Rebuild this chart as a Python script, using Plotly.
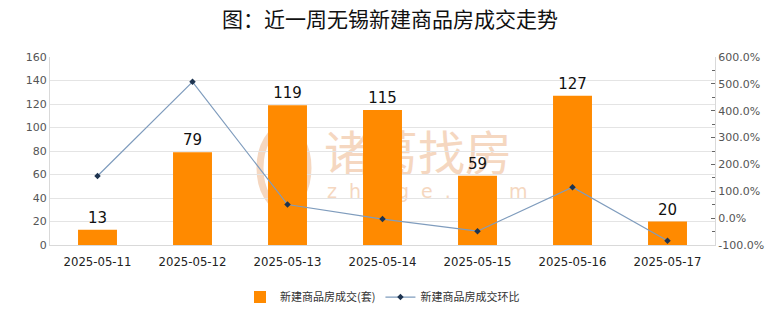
import base64
import plotly.graph_objects as go

# ---- data ----
dates = ["2025-05-11", "2025-05-12", "2025-05-13", "2025-05-14",
         "2025-05-15", "2025-05-16", "2025-05-17"]
deals = [13, 79, 119, 115, 59, 127, 20]
ratio = [157.0, 507.6, 50.6, -3.4, -48.7, 115.3, -84.3]
left_ticks = [0, 20, 40, 60, 80, 100, 120, 140, 160]
right_ticks = [-100, 0, 100, 200, 300, 400, 500, 600]
right_labels = [f"{v:.1f}%" for v in right_ticks]

title_text = "图：近一周无锡新建商品房成交走势"
bar_name = "新建商品房成交(套)"
line_name = "新建商品房成交环比"

# ---- watermark (decorative) ----
svg = """<svg xmlns='http://www.w3.org/2000/svg' width='780' height='328' viewBox='0 0 780 328'>
<g fill='none' stroke='#F5D7C0' stroke-width='7'>
<ellipse cx='284' cy='168' rx='24' ry='40'/>
</g>
<path d='M284 132 C270 150 270 186 284 204 C298 186 298 150 284 132 Z' fill='#F5D7C0'/>
<text x='324' y='170' font-family='Noto Sans CJK SC' font-size='47' fill='#F5D7C0'>诸葛找房</text>
<text x='327' y='198' font-family='DejaVu Sans' font-size='19' letter-spacing='12' fill='#F5D7C0'>zhuge.com</text>
</svg>"""
svg_uri = "data:image/svg+xml;base64," + base64.b64encode(svg.encode("utf-8")).decode()

fig = go.Figure()
fig.add_trace(go.Bar(
    x=dates, y=deals, name=bar_name,
    marker=dict(color="#FF8A00", line=dict(width=0)),
    width=0.41,
    text=deals, textposition="outside", cliponaxis=False,
    textfont=dict(size=15, color="#111111", family="DejaVu Sans"),
))
fig.add_trace(go.Scatter(
    x=dates, y=ratio, yaxis="y2", name=line_name,
    mode="lines+markers",
    line=dict(color="#7F9CBD", width=1.2),
    marker=dict(symbol="diamond", size=5, color="#1E3450"),
))

fig.update_layout(
    width=780, height=328,
    paper_bgcolor="white", plot_bgcolor="rgba(0,0,0,0)",
    margin=dict(l=50, r=65, t=57, b=83),
    title=dict(text=title_text, x=0.5, xanchor="center", y=1 - 20 / 328,
               yref="container", yanchor="middle",
               font=dict(size=21, color="#111111", family="Noto Sans CJK SC")),
    showlegend=True,
    legend=dict(orientation="h", x=0.5, xanchor="center", y=-0.277, yanchor="middle",
                font=dict(size=11, color="#333333", family="Noto Sans CJK SC"),
                itemwidth=30, bgcolor="rgba(0,0,0,0)"),
    xaxis=dict(type="category", showline=True, linecolor="#D9D9D9", ticks="", showgrid=False,
               tickfont=dict(size=13, color="#222222", family="DejaVu Sans Condensed, DejaVu Sans"),
               ticklabelstandoff=4),
    yaxis=dict(range=[0, 160], tickvals=left_ticks, showgrid=True, gridcolor="#E4E4E4",
               showline=True, linecolor="#D9D9D9", zeroline=False, ticks="",
               tickfont=dict(size=11, color="#555555", family="DejaVu Sans")),
    yaxis2=dict(range=[-100, 600], overlaying="y", side="right",
                tickvals=right_ticks, ticktext=right_labels,
                showgrid=False, zeroline=False, showline=True, linecolor="#D9D9D9",
                ticks="inside", ticklen=4, tickcolor="#666666",
                minor=dict(ticks="inside", ticklen=3, tickcolor="#666666", dtick=50),
                tickfont=dict(size=11, color="#555555", family="DejaVu Sans")),
    images=[dict(source=svg_uri, xref="paper", yref="paper", x=-50 / 665, y=1 + 57 / 188,
                 sizex=780 / 665, sizey=328 / 188, xanchor="left", yanchor="top",
                 sizing="stretch", layer="below")],
)

fig.write_html("out.html")
